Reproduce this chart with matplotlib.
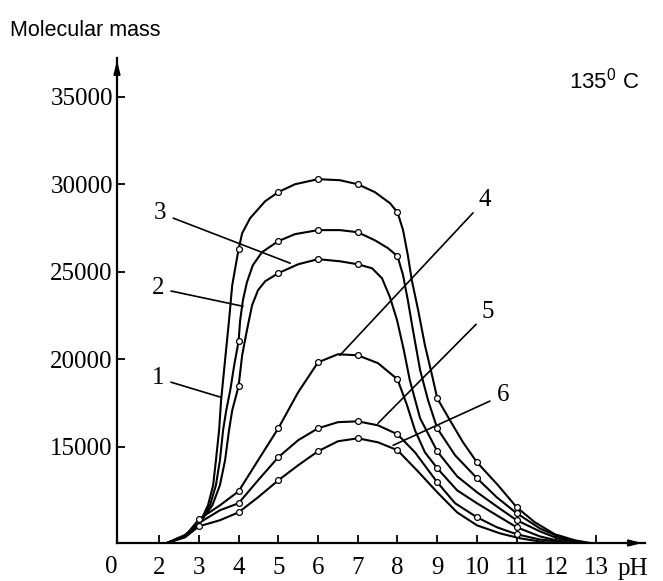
import matplotlib.pyplot as plt

plt.rcParams["font.family"] = "Liberation Serif"
plt.rcParams["mathtext.fontset"] = "custom"
plt.rcParams["mathtext.rm"] = "Liberation Sans"

# curve outlines (pH, molecular mass)
c1_ph = [2.20, 2.65, 3.03, 3.23, 3.36, 3.43, 3.51, 3.56, 3.66, 3.76, 3.84, 4, 4.09, 4.29, 4.47, 4.67, 5,
         5.42, 6, 6.55, 7, 7.43, 7.81, 8, 8.14, 8.26, 8.36, 8.52, 8.69, 8.87, 9, 9.32, 9.65, 10, 10.53,
         11, 11.46, 11.96, 12.47, 12.85]
c1_mm = [9500, 9950, 10680, 11650, 12800, 14220, 15940, 17650, 19940, 22220, 24220, 26280, 27190, 28050,
         28510, 29020, 29540, 29990, 30280, 30220, 29990, 29540, 28910, 28390, 27370, 25940, 24510, 22800,
         20800, 19080, 17770, 16510, 15250, 14110, 12800, 11540, 10680, 10000, 9650, 9500]

c2_ph = [2.20, 2.65, 3.03, 3.28, 3.43, 3.53, 3.61, 3.69, 3.79, 3.89, 4, 4.04, 4.11, 4.21, 4.36, 4.59, 5,
         5.42, 6, 6.55, 7, 7.43, 7.76, 8, 8.14, 8.26, 8.39, 8.57, 8.77, 9, 9.45, 10, 10.50, 11, 11.58,
         12.09, 12.72]
c2_mm = [9500, 9950, 10680, 11650, 12800, 14220, 15940, 17080, 18220, 19650, 21020, 22220, 23370, 24390,
         25370, 26110, 26740, 27140, 27370, 27370, 27250, 26790, 26340, 25880, 24800, 23370, 21650, 19370,
         17650, 16050, 14510, 13200, 12110, 11200, 10340, 9820, 9500]

c3_ph = [2.20, 2.65, 3.03, 3.34, 3.53, 3.66, 3.76, 3.84, 4, 4.09, 4.21, 4.34, 4.49, 4.67, 5, 5.50, 6,
         6.55, 7, 7.36, 7.61, 7.81, 7.99, 8.16, 8.31, 8.57, 9, 9.50, 10, 10.53, 11, 11.58, 12.09, 12.67]
c3_mm = [9500, 9880, 10680, 11650, 12800, 14220, 15940, 17080, 18450, 20220, 21650, 23080, 23940, 24450,
         24910, 25420, 25710, 25590, 25420, 25190, 24620, 23540, 22220, 20510, 18800, 16620, 14740, 13310,
         12400, 11540, 10800, 10170, 9710, 9500]

c4_ph = [2.20, 2.65, 3, 3.53, 4, 4.49, 5, 5.50, 6, 6.50, 7, 7.51, 8, 8.24, 8.44, 8.69, 9, 9.50, 10,
         10.50, 11, 11.58, 12.21, 12.59]
c4_mm = [9500, 9880, 10850, 11650, 12450, 14220, 16050, 18110, 19820, 20280, 20220, 19770, 18850, 17370,
         15940, 14680, 13770, 12510, 11770, 11080, 10400, 9880, 9540, 9500]

c5_ph = [2.20, 2.65, 3.03, 3.53, 4, 4.49, 5, 5.50, 6, 6.50, 7, 7.51, 8, 8.44, 9, 9.45, 10, 10.50, 11,
         11.58, 12.40]
c5_mm = [9500, 9880, 10680, 11370, 11770, 13080, 14400, 15370, 16050, 16400, 16450, 16220, 15710, 14680,
         12970, 11770, 10970, 10400, 10000, 9700, 9500]

c6_ph = [2.20, 2.65, 3, 3.53, 4, 4.49, 5, 5.50, 6, 6.50, 7, 7.51, 8, 8.49, 9, 9.50, 10, 10.58, 11.08,
         11.71, 12.20]
c6_mm = [9500, 9820, 10450, 10800, 11250, 12110, 13080, 13940, 14740, 15310, 15480, 15250, 14800, 13650,
         12400, 11250, 10510, 10050, 9770, 9540, 9500]

# measured points (open circles)
c1_mark_ph = [4, 5, 6, 7, 8, 9, 10, 11]
c1_mark_mm = [26280, 29540, 30280, 29990, 28390, 17770, 14110, 11540]
c2_mark_ph = [4, 5, 6, 7, 8, 9, 10, 11]
c2_mark_mm = [21020, 26740, 27370, 27250, 25880, 16050, 13200, 11200]
c3_mark_ph = [4, 5, 6, 7, 9, 11]
c3_mark_mm = [18450, 24910, 25710, 25420, 14740, 10800]
c4_mark_ph = [3, 4, 5, 6, 7, 8, 9, 11]
c4_mark_mm = [10850, 12450, 16050, 19820, 20220, 18850, 13770, 10400]
c5_mark_ph = [4, 5, 6, 7, 8, 9, 10, 11]
c5_mark_mm = [11770, 14400, 16050, 16450, 15710, 12970, 10970, 10000]
c6_mark_ph = [3, 4, 5, 6, 7, 8]
c6_mark_mm = [10450, 11250, 13080, 14740, 15480, 14800]

curve_names = ["1", "2", "3", "4", "5", "6"]
x_ticks = [2, 3, 4, 5, 6, 7, 8, 9, 10, 11, 12, 13]
y_ticks = [15000, 20000, 25000, 30000, 35000]

paths = [(c1_ph, c1_mm), (c2_ph, c2_mm), (c3_ph, c3_mm), (c4_ph, c4_mm), (c5_ph, c5_mm), (c6_ph, c6_mm)]
marks = [(c1_mark_ph, c1_mark_mm), (c2_mark_ph, c2_mark_mm), (c3_mark_ph, c3_mark_mm),
         (c4_mark_ph, c4_mark_mm), (c5_mark_ph, c5_mark_mm), (c6_mark_ph, c6_mark_mm)]

# where each number sits and where its leader line touches the curve
label_text_pos = [(1.97, 18910), (1.97, 24050), (2.03, 28340), (10.20, 29080), (10.28, 22680), (10.65, 17940)]
label_line_end = [(3.56, 17820), (4.11, 23020), (5.30, 25480), (6.55, 20220), (7.51, 16340), (7.89, 15080)]

fig = plt.figure(figsize=(6.63, 5.81), dpi=100)
ax = fig.add_axes([117 / 663, 1 - 543 / 581, (645 - 117) / 663, (543 - 58) / 581])

for (xs, ys) in paths:
    ax.plot(xs, ys, color="black", lw=1.5, zorder=2,
            solid_joinstyle="round", solid_capstyle="round")

for (xs, ys) in marks:
    ax.plot(xs, ys, linestyle="none", marker="o", markersize=4.2,
            markerfacecolor="white", markeredgecolor="black", markeredgewidth=0.9, zorder=3)

for name, tpos, epos in zip(curve_names, label_text_pos, label_line_end):
    ax.annotate(name, xy=epos, xytext=tpos, fontsize=18, ha="center", va="center",
                arrowprops=dict(arrowstyle="-", color="black", lw=1.2, shrinkA=3, shrinkB=0))

ax.set_xlim(0.94, 14.23)
ax.set_ylim(9500, 37200)
ax.set_xticks(x_ticks)
ax.set_xticklabels([str(t) for t in x_ticks])
ax.set_yticks(y_ticks)
ax.set_yticklabels([str(t) for t in y_ticks])
ax.tick_params(direction="in", length=6, width=1.3, labelsize=18)
ax.tick_params(axis="x", pad=10)
ax.tick_params(axis="y", pad=3)

for side in ["top", "right"]:
    ax.spines[side].set_visible(False)
for side in ["left", "bottom"]:
    ax.spines[side].set_linewidth(1.6)

# axis arrows
ax.annotate("", xy=(1.0, 0), xytext=(0.96, 0), xycoords="axes fraction",
            arrowprops=dict(arrowstyle="-|>,head_length=0.7,head_width=0.18", color="black", lw=1.6))
ax.annotate("", xy=(0, 1.0), xytext=(0, 0.96), xycoords="axes fraction",
            arrowprops=dict(arrowstyle="-|>,head_length=0.7,head_width=0.18", color="black", lw=1.6))

fig.text(111 / 663, 1 - 567 / 581, "0", ha="center", va="center", fontsize=18)
fig.text(633 / 663, 1 - 569 / 581, "pH", ha="center", va="center", fontsize=18)
fig.text(10 / 663, 1 - 30 / 581, "Molecular mass", ha="left", va="center",
         fontsize=15.5, family="Liberation Sans")
fig.text(604 / 663, 1 - 81 / 581, r"$\mathrm{135^0\ C}$", ha="center", va="center", fontsize=16)

fig.savefig("out.png", dpi=100)
